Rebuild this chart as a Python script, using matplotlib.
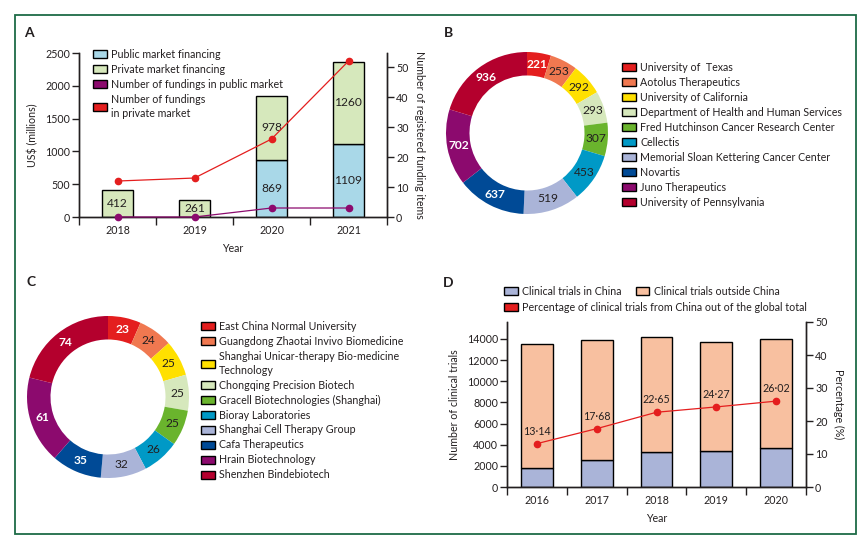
import numpy as np
import matplotlib
matplotlib.use('Agg')
import matplotlib.pyplot as plt
from matplotlib.patches import Patch, Rectangle

plt.rcParams['font.family'] = ['Lato', 'DejaVu Sans']
TXT = '#231f20'
plt.rcParams['text.color'] = TXT
plt.rcParams['axes.labelcolor'] = TXT
plt.rcParams['xtick.color'] = TXT
plt.rcParams['ytick.color'] = TXT

# ---------------- data ----------------
years_a = ['2018', '2019', '2020', '2021']
public_fin = [0, 0, 869, 1109]
private_fin = [412, 261, 978, 1260]
n_public = [0, 0, 3, 3]
n_private = [12, 13, 26, 52]

b_names = ['University of  Texas', 'Aotolus Therapeutics', 'University of California',
           'Department of Health and Human Services', 'Fred Hutchinson Cancer Research Center',
           'Cellectis', 'Memorial Sloan Kettering Cancer Center', 'Novartis',
           'Juno Therapeutics', 'University of Pennsylvania']
b_values = [221, 253, 292, 293, 307, 453, 519, 637, 702, 936]

c_names = ['East China Normal University', 'Guangdong Zhaotai Invivo Biomedicine',
           'Shanghai Unicar-therapy Bio-medicine\nTechnology', 'Chongqing Precision Biotech',
           'Gracell Biotechnologies (Shanghai)', 'Bioray Laboratories',
           'Shanghai Cell Therapy Group', 'Cafa Therapeutics', 'Hrain Biotechnology',
           'Shenzhen Bindebiotech']
c_values = [23, 24, 25, 25, 25, 26, 32, 35, 61, 74]

years_d = ['2016', '2017', '2018', '2019', '2020']
trials_china = [1790, 2540, 3300, 3390, 3670]
trials_total = [13560, 13940, 14220, 13750, 14030]
pct_china = [13.14, 17.68, 22.65, 24.27, 26.02]
pct_labels = ['13·14', '17·68', '22·65', '24·27', '26·02']

# ---------------- styles ----------------
donut_colors = ['#e41e1e', '#f07850', '#ffe000', '#d6e8bc', '#6ab42d',
                '#0099c6', '#aab4d8', '#004a96', '#8c0a6e', '#b4002d']
white_lbl_b = [True, False, False, False, False, False, False, True, True, True]
white_lbl_c = [True, False, False, False, False, False, False, True, True, True]
C_PUB = '#a9d8e8'
C_PRIV = '#d6e8bc'
C_RED = '#e41e1e'
C_PURP = '#8c0a6e'
C_CHN = '#aab4d8'
C_OUT = '#f8c0a0'

W, H = 861, 544
fig = plt.figure(figsize=(W / 100, H / 100), dpi=100)

# size the font so that the longest legend entry spans ~201 px as in the reference
_t = fig.text(0, 0, 'Department of Health and Human Services', fontsize=10)
_w = _t.get_window_extent(renderer=fig.canvas.get_renderer()).width
_t.remove()
FS = min(9.5, max(7.0, 10 * 202 / _w))
plt.rcParams['font.size'] = FS


def ax_px(l, t, r, b):
    return fig.add_axes([l / W, 1 - b / H, (r - l) / W, (b - t) / H])


def fx(x):
    return x / W


def fy(y):
    return 1 - y / H


# frame
fig.patches.append(Rectangle((fx(15), fy(534)), (856 - 15) / W, (534 - 15) / H,
                             transform=fig.transFigure, fill=False,
                             edgecolor='#1d6b46', lw=1.3))

# panel letters
for lab, (px, py) in zip('ABCD', [(29, 33), (448, 33), (31, 282), (448, 283)]):
    fig.text(fx(px), fy(py), lab, fontsize=FS * 1.3, fontweight='bold', ha='center', va='center')


def style_axes(ax):
    ax.tick_params(direction='out', length=5, width=1, pad=1.5, labelsize=FS)
    for s in ax.spines.values():
        s.set_linewidth(1)
        s.set_color(TXT)


LEG = dict(frameon=False, borderpad=0, borderaxespad=0, handlelength=1.3,
           handleheight=0.75, handletextpad=0.4, labelspacing=0.37, fontsize=FS)


def make_legend(handles, labels, xy, **kw):
    opts = dict(LEG)
    opts.update(kw)
    leg = fig.legend(handles, labels, loc='upper left', bbox_to_anchor=xy, **opts)
    for t in leg.get_texts():
        t.set_linespacing(1.3)
    return leg


# ---------------- panel A ----------------
axA = ax_px(79, 53, 387, 217)
xa = np.arange(len(years_a))
bw = 0.4
axA.bar(xa, public_fin, width=bw, color=C_PUB, edgecolor='black', lw=1, zorder=2)
axA.bar(xa, private_fin, width=bw, bottom=public_fin, color=C_PRIV, edgecolor='black', lw=1, zorder=2)
for i in range(len(xa)):
    if public_fin[i] > 0:
        axA.text(xa[i], public_fin[i] / 2, str(public_fin[i]), ha='center', va='center',
                 fontsize=FS * 1.12, zorder=3)
    axA.text(xa[i], public_fin[i] + private_fin[i] / 2, str(private_fin[i]), ha='center', va='center',
             fontsize=FS * 1.12, zorder=3)
axA.set_xlim(-0.5, len(xa) - 0.5)
axA.set_ylim(0, 2500)
axA.set_yticks([0, 500, 1000, 1500, 2000, 2500])
axA.set_xticks(xa)
axA.set_xticklabels(years_a)
axA.set_xticks(np.arange(-0.5, len(xa), 1), minor=True)
style_axes(axA)
axA.tick_params(axis='x', which='major', length=0, pad=6)
axA.tick_params(axis='x', which='minor', length=6, width=1)
axA.spines['top'].set_visible(False)
axA.set_xlabel('Year', labelpad=5, fontsize=FS)
axA.set_ylabel('US$ (millions)', labelpad=5, fontsize=FS)

axA2 = axA.twinx()
axA2.set_ylim(0, 54.7)
axA2.set_yticks([0, 10, 20, 30, 40, 50])
style_axes(axA2)
axA2.spines['top'].set_visible(False)
axA2.plot(xa, n_private, color=C_RED, lw=0.9, marker='o', ms=4.5, zorder=4)
axA2.plot(xa, n_public, color=C_PURP, lw=0.9, marker='o', ms=4.5, zorder=4, clip_on=False)
axA2.set_ylabel('Number of registered funding items', rotation=270, labelpad=12, fontsize=FS)

handlesA = [Patch(facecolor=C_PUB, edgecolor='black', lw=1),
            Patch(facecolor=C_PRIV, edgecolor='black', lw=1),
            Patch(facecolor=C_PURP, edgecolor='black', lw=1),
            Patch(facecolor=C_RED, edgecolor='black', lw=1)]
labelsA = ['Public market financing', 'Private market financing',
           'Number of fundings in public market', 'Number of fundings\nin private market']
make_legend(handlesA, labelsA, (fx(93), fy(49)))


# ---------------- donuts ----------------
def donut(ax, values, names, colors, whites, legend_xy):
    wedges, _ = ax.pie(values, colors=colors, startangle=90, counterclock=False,
                       wedgeprops=dict(width=0.29, linewidth=0))
    ax.set_aspect('equal')
    ax.set_xlim(-1, 1)
    ax.set_ylim(-1, 1)
    for w, v, wh in zip(wedges, values, whites):
        ang = np.deg2rad((w.theta1 + w.theta2) / 2)
        r = 0.855
        ax.text(r * np.cos(ang), r * np.sin(ang), str(v), ha='center', va='center',
                fontsize=FS * 1.12, color='white' if wh else TXT,
                fontweight='bold' if wh else 'normal')
    handles = [Patch(facecolor=c, edgecolor='black', lw=1) for c in colors]
    make_legend(handles, names, legend_xy)


axB = ax_px(446, 52, 608, 214)
donut(axB, b_values, b_names, donut_colors, white_lbl_b, (fx(622), fy(62)))

axC = ax_px(27, 316, 189, 478)
donut(axC, c_values, c_names, donut_colors, white_lbl_c, (fx(201), fy(321)))

# ---------------- panel D ----------------
axD = ax_px(507, 322, 806, 487)
xd = np.arange(len(years_d))
bwd = 0.53
outside = [t - c for t, c in zip(trials_total, trials_china)]
axD.bar(xd, trials_china, width=bwd, color=C_CHN, edgecolor='black', lw=1, zorder=2)
axD.bar(xd, outside, width=bwd, bottom=trials_china, color=C_OUT, edgecolor='black', lw=1, zorder=2)
axD.set_xlim(-0.5, len(xd) - 0.5)
axD.set_ylim(0, 15600)
axD.set_yticks(np.arange(0, 14001, 2000))
axD.set_xticks(xd)
axD.set_xticklabels(years_d)
axD.set_xticks(np.arange(-0.5, len(xd), 1), minor=True)
style_axes(axD)
axD.tick_params(axis='x', which='major', length=0, pad=6)
axD.tick_params(axis='x', which='minor', length=6, width=1)
axD.spines['top'].set_visible(False)
axD.set_xlabel('Year', labelpad=5, fontsize=FS)
axD.set_ylabel('Number of clinical trials', labelpad=5, fontsize=FS)

axD2 = axD.twinx()
axD2.set_ylim(0, 50)
axD2.set_yticks([0, 10, 20, 30, 40, 50])
style_axes(axD2)
axD2.spines['top'].set_visible(False)
axD2.plot(xd, pct_china, color=C_RED, lw=0.9, marker='o', ms=4.5, zorder=4)
for i, lab in enumerate(pct_labels):
    axD2.annotate(lab, (xd[i], pct_china[i]), xytext=(0, 5), textcoords='offset points',
                  ha='center', va='bottom', fontsize=FS)
axD2.set_ylabel('Percentage (%)', rotation=270, labelpad=12, fontsize=FS)

make_legend([Patch(facecolor=C_CHN, edgecolor='black', lw=1), Patch(facecolor=C_OUT, edgecolor='black', lw=1)],
            ['Clinical trials in China', 'Clinical trials outside China'], (fx(504), fy(286)),
            ncol=2, columnspacing=1.3)
make_legend([Patch(facecolor=C_RED, edgecolor='black', lw=1)],
            ['Percentage of clinical trials from China out of the global total'], (fx(504), fy(302)))

fig.savefig('out.png', dpi=100)
